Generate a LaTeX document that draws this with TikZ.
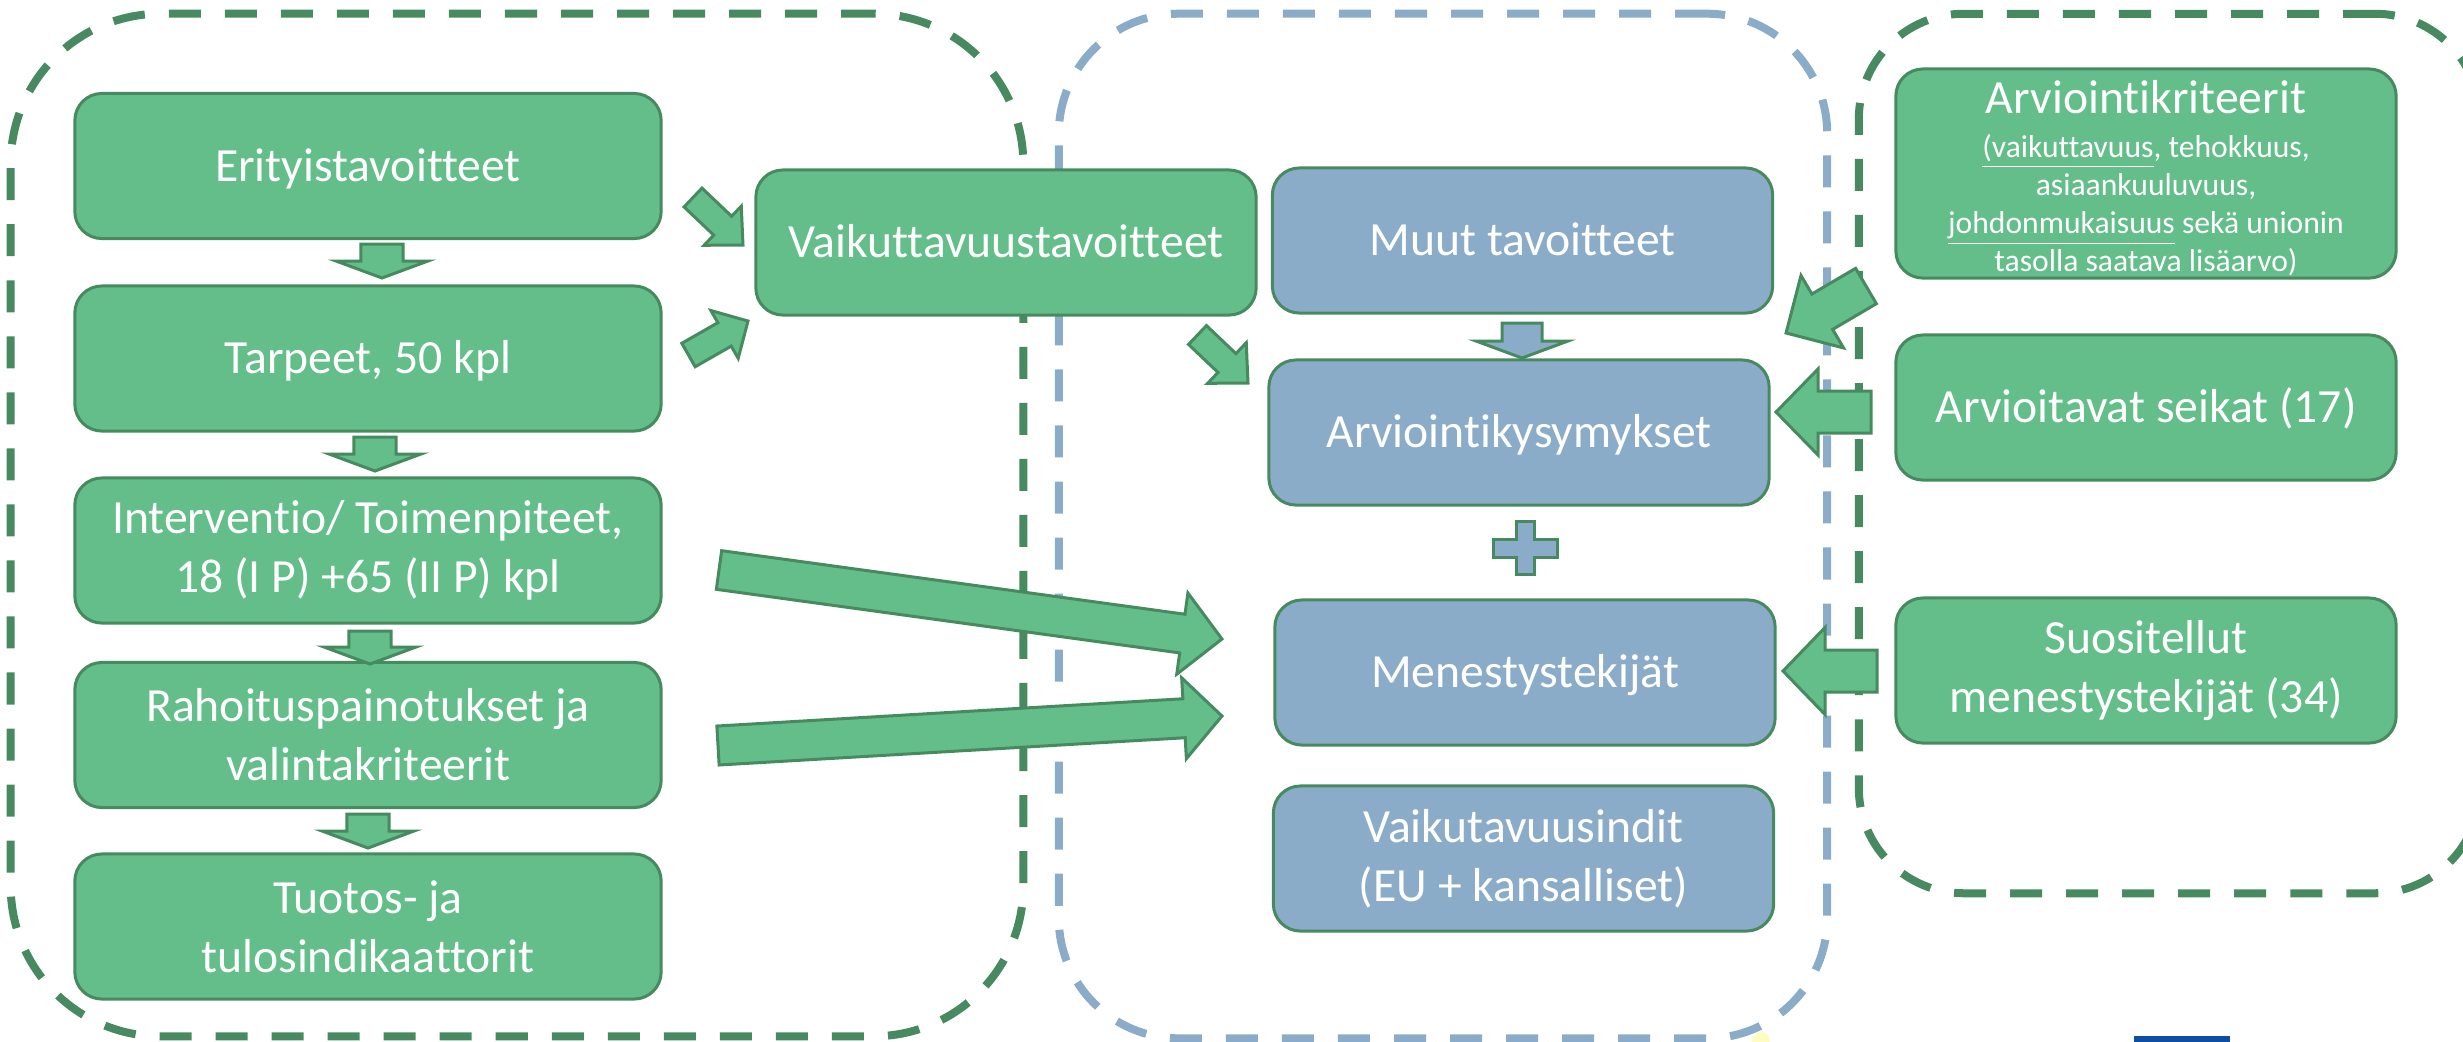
\documentclass[tikz,border=0pt]{standalone}
\usepackage{fontspec}
\setmainfont{Carlito}[Ligatures={NoCommon}]
\usetikzlibrary{calc}
\definecolor{gfill}{HTML}{63BE89}
\definecolor{gline}{HTML}{488A60}
\definecolor{bfill}{HTML}{8BACC9}
\definecolor{eublue}{HTML}{0B4EA2}
\newcommand\mainfs{\fontsize{13.55pt}{16.8pt}\selectfont}
\newcommand\smallfs{\fontsize{8.99pt}{10.8pt}\selectfont}
\tikzset{
  box/.style={draw=gline, line width=0.03cm, rounded corners=0.27cm, text=white,
    align=center, font=\mainfs, inner sep=0pt, minimum width=5cm, minimum height=1.45cm},
  gbox/.style={box, fill=gfill},
  bbox/.style={box, fill=bfill},
  lbox/.style={gbox, minimum width=5.86cm},
  one/.style={text height=9.3pt, text depth=0.7pt},
  frameg/.style={draw=gline, line width=0.08cm, dash pattern=on 0.32cm off 0.24cm, inner sep=0pt},
  frameb/.style={draw=bfill, line width=0.08cm, dash pattern=on 0.32cm off 0.24cm, inner sep=0pt},
  blockarr/.style={draw=gline, fill=gfill, line width=0.03cm, line join=miter},
  kline/.style={text=white, inner sep=0pt, anchor=base, font=\smallfs},
}
% block arrow from coordinate #2 to coordinate #3; shaft width #4, head width #5, head length #6 (px)
\newcommand\blockarrow[6][]{%
  \pgfpointanchor{#2}{center}\pgfgetlastxy\baAx\baAy
  \pgfpointanchor{#3}{center}\pgfgetlastxy\baBx\baBy
  \pgfmathsetmacro\baAng{atan2(\baBy-\baAy,\baBx-\baAx)}%
  \pgfmathsetmacro\baLen{veclen(\baBx-\baAx,\baBy-\baAy)}%
  \pgfmathsetmacro\baSw{#4*0.284528/2}%
  \pgfmathsetmacro\baHw{#5*0.284528/2}%
  \pgfmathsetmacro\baHb{\baLen-#6*0.284528}%
  \draw[blockarr,#1,shift={(#2)},rotate=\baAng]
    (0pt,-\baSw pt) -- (\baHb pt,-\baSw pt) -- (\baHb pt,-\baHw pt) -- (\baLen pt,0pt)
    -- (\baHb pt,\baHw pt) -- (\baHb pt,\baSw pt) -- (0pt,\baSw pt) -- cycle;
}
\begin{document}
\begin{tikzpicture}[x=0.01cm,y=-0.01cm]
\useasboundingbox (0,0) rectangle (2463,1041);
\clip (0,0) rectangle (2463,1041);

% dashed containers
\node[frameg, rounded corners=1.5cm, minimum width=10.12cm, minimum height=10.22cm] (frameL) at (517,525) {};
\node[frameb, rounded corners=1.2cm, minimum width=7.68cm, minimum height=10.24cm] (frameM) at (1443,526) {};
\node[frameg, rounded corners=1.05cm, minimum width=6.21cm, minimum height=8.79cm] (frameR) at (2169.5,453.5) {};

% left column
\node[lbox, one] (eri) at (368,166) {Erityistavoitteet};
\node[lbox, one] (tar) at (368,358.5) {Tarpeet, 50 kpl};
\node[lbox] (int) at (368,550.5) {Interventio/ Toimenpiteet,\\18 (I P) +65 (II P) kpl};
\node[lbox] (rah) at (368,735) {Rahoituspainotukset ja\\valintakriteerit};
\node[lbox] (tuo) at (368,926.5) {Tuotos- ja\\tulosindikaattorit};

% middle
\node[gbox, one] (vaik) at (1006,242.5) {Vaikuttavuustavoitteet};
\node[bbox, one] (muut) at (1522.5,240.5) {Muut tavoitteet};
\node[bbox, one] (kys) at (1519,432.5) {Arviointikysymykset};
\node[bbox, one] (men) at (1525,672.5) {Menestystekijät};
\node[bbox] (ind) at (1523.5,858.5) {Vaikutavuusindit\\(EU + kansalliset)};

% right column
\node[gbox, minimum height=2.09cm] (krit) at (2146,173.5) {};
\node[kline, font=\mainfs] (kritA) at (2146,113) {Arviointikriteerit};
\node[kline] (kritB) at (2146,157) {\underline{(vaikuttavuus}, tehokkuus,};
\node[kline] (kritC) at (2146,195) {asiaankuuluvuus,};
\node[kline] (kritD) at (2146,233) {\underline{johdonmukaisuus} sekä unionin};
\node[kline] (kritE) at (2146,271) {tasolla saatava lisäarvo)};
\node[gbox, one] (seik) at (2146,407.5) {Arvioitavat seikat (17)};
\node[gbox] (suos) at (2146,670.5) {Suositellut\\menestystekijät (34)};

% arrow end points
\coordinate (d1a) at (382,244);   \coordinate (d1b) at (382,278);
\coordinate (d2a) at (375,437);   \coordinate (d2b) at (375,471);
\coordinate (d3a) at (370,631);   \coordinate (d3b) at (370,664);
\coordinate (d4a) at (368,814);   \coordinate (d4b) at (368,848);
\coordinate (dba) at (1522,323);  \coordinate (dbb) at (1522,358);
\coordinate (aa) at (693,197.5);  \coordinate (ab) at (743,245);
\coordinate (ba) at (688.5,355);  \coordinate (bb) at (748,321);
\coordinate (ca) at (1197.5,335); \coordinate (cb) at (1248,383);
\coordinate (da) at (1866,286);   \coordinate (db) at (1786,333);
\coordinate (ea) at (1871,412);   \coordinate (eb) at (1776,412);
\coordinate (fa) at (1877,671);   \coordinate (fb) at (1783,671);
\coordinate (ga) at (719,570);    \coordinate (gb) at (1222,639);
\coordinate (ha) at (718,745.5);  \coordinate (hb) at (1222,716);

\blockarrow{d1a}{d1b}{42}{92}{17}
\blockarrow{d2a}{d2b}{42}{92}{17}
\blockarrow{d3a}{d3b}{42}{92}{17}
\blockarrow{d4a}{d4b}{42}{92}{17}
\blockarrow[fill=bfill]{dba}{dbb}{40}{92}{17}
\blockarrow{aa}{ab}{26}{54}{28}
\blockarrow{ba}{bb}{27}{55}{27}
\blockarrow{ca}{cb}{26}{56}{29}
\blockarrow{da}{db}{41}{84}{42}
\blockarrow{ea}{eb}{42}{86}{42}
\blockarrow{fa}{fb}{42}{87}{42}
\blockarrow{ga}{gb}{39}{82}{40}
\blockarrow{ha}{hb}{39}{81}{38}

% plus sign
\coordinate (plus) at (1525,548);
\draw[blockarr, fill=bfill, shift={(plus)}]
  (-9,-26.5) -- (9,-26.5) -- (9,-9) -- (32,-9) -- (32,9) -- (9,9) -- (9,26.5)
  -- (-9,26.5) -- (-9,9) -- (-32,9) -- (-32,-9) -- (-9,-9) -- cycle;

% cut-off logo fragments at the bottom edge
\fill[yellow!25] (1761,1041) circle (9);
\fill[eublue] (2134,1036) rectangle (2230,1045);
\end{tikzpicture}
\end{document}
